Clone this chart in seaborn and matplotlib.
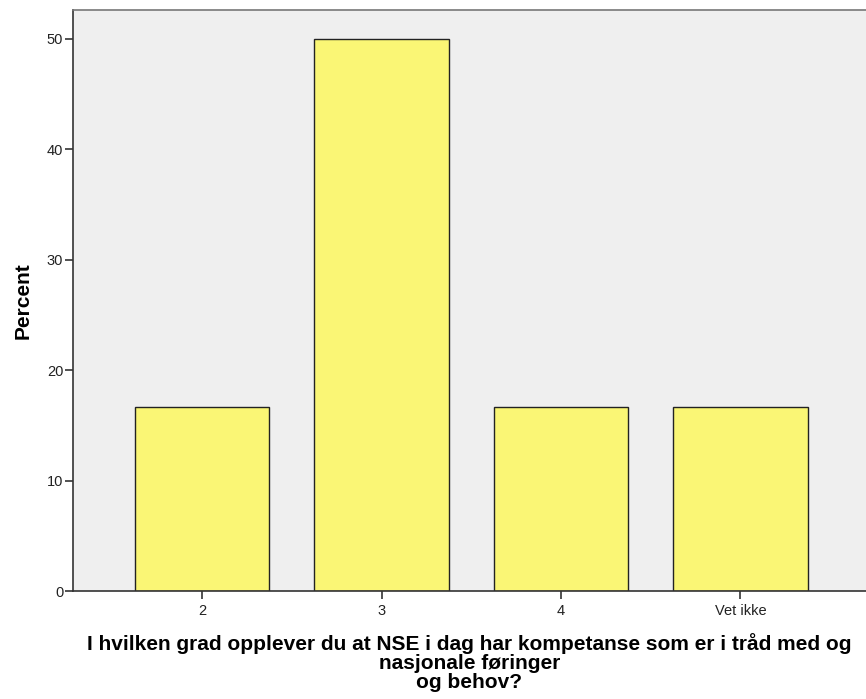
import matplotlib
matplotlib.use("Agg")
import matplotlib.pyplot as plt
import seaborn as sns
import pandas as pd

# Data
categories = ["2", "3", "4", "Vet ikke"]
percent = [16.7, 50.0, 16.7, 16.7]
y_ticks = [0, 10, 20, 30, 40, 50]

df = pd.DataFrame({"answer": categories, "percent": percent})

sns.set_style("white")
plt.rcParams['font.family'] = ['Liberation Sans', 'DejaVu Sans']

fig = plt.figure(figsize=(8.66, 6.99), dpi=100)
ax = fig.add_axes([0.0843, 0.1545, 0.9157, 0.8312])
ax.set_facecolor("#EFEFEF")

sns.barplot(data=df, x="answer", y="percent", color="#FAF675", width=0.75,
            edgecolor="#222222", linewidth=1.0, saturation=1, ax=ax)

ax.set_xlim(-0.72, 3.70)
ax.set_ylim(0, 52.6)
ax.set_yticks(y_ticks)

ax.spines["right"].set_visible(False)
ax.spines["top"].set_color("#777777")
for side in ["left", "bottom"]:
    ax.spines[side].set_color("#333333")
for s in ax.spines.values():
    s.set_linewidth(1.2)

ax.tick_params(axis="both", direction="out", length=6, width=1.2, color="#333333",
               labelsize=10.5, labelcolor="#222222", left=True, bottom=True)
ax.tick_params(axis="y", pad=1)
ax.tick_params(axis="x", pad=3)

ax.set_ylabel("Percent", fontsize=15, fontweight="bold", color="black", labelpad=10)
ax.set_xlabel("I hvilken grad opplever du at NSE i dag har kompetanse som er i tråd med og\n"
              "nasjonale føringer\nog behov?",
              fontsize=15, fontweight="bold", color="black", linespacing=1.02, labelpad=11)

fig.savefig("out.png", dpi=100)
